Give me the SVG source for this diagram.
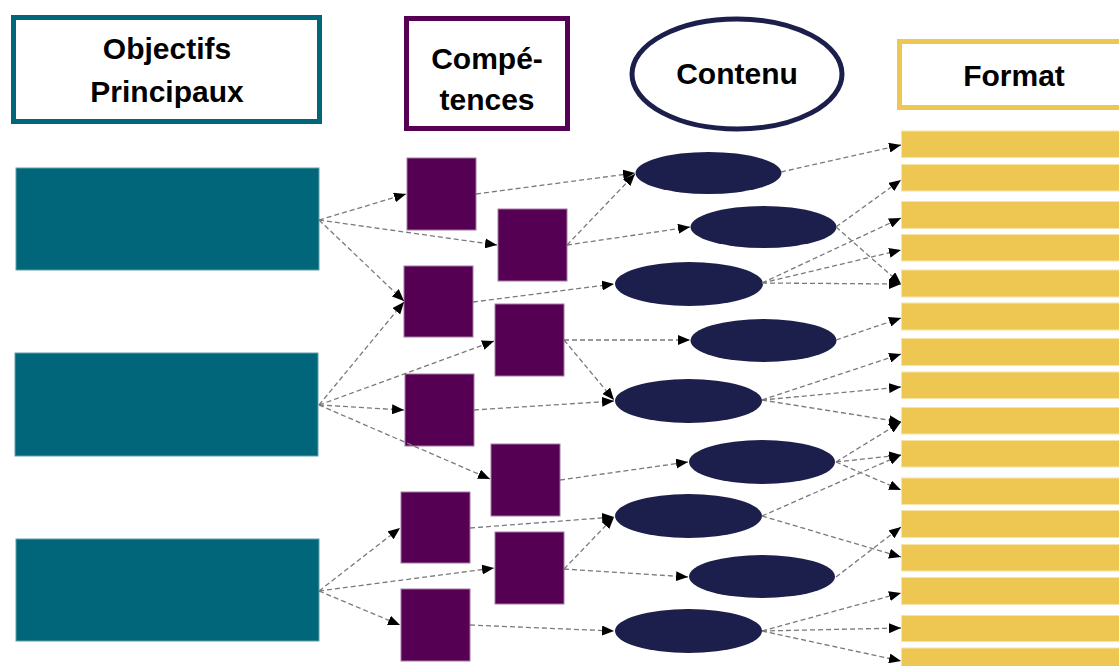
<svg xmlns="http://www.w3.org/2000/svg" width="1119" height="666" viewBox="0 0 1119 666">
<defs>
<style>
.hdr{font-family:"Liberation Sans",Arial,sans-serif;font-weight:bold;font-size:30px;fill:#000;text-anchor:middle}
.obj{fill:#02667a;stroke:#5f9fac;stroke-width:1}
.cmp{fill:#550053;stroke:#a57aa3;stroke-width:1}
.cnt{fill:#1c1f4b}
.fmt{fill:#eec752;stroke:#f6e3a8;stroke-width:1}
.cn{fill:none;stroke:#7a7a7a;stroke-width:1.3;stroke-dasharray:5 3;marker-end:url(#ah)}
</style>
<marker id="ah" markerUnits="userSpaceOnUse" markerWidth="12" markerHeight="10" viewBox="0 0 12 10" refX="12" refY="5" orient="auto">
<path d="M0,0 L12,5 L0,10 z" fill="#000"/>
</marker>
</defs>
<rect width="1119" height="666" fill="#fff"/>

<g id="hdr-objectifs">
<rect x="13.5" y="17.5" width="306" height="104" fill="#fff" stroke="#02667a" stroke-width="5"/>
<text class="hdr" x="167" y="59">Objectifs</text>
<text class="hdr" x="167" y="102">Principaux</text>
</g>
<g id="hdr-competences">
<rect x="406.5" y="18.5" width="161" height="110" fill="#fff" stroke="#550053" stroke-width="5"/>
<text class="hdr" x="487" y="69">Compé-</text>
<text class="hdr" x="487" y="110">tences</text>
</g>
<g id="hdr-contenu">
<ellipse cx="737" cy="74" rx="105" ry="55" fill="#fff" stroke="#1c1f4b" stroke-width="5"/>
<text class="hdr" x="737" y="84">Contenu</text>
</g>
<g id="hdr-format">
<rect x="899.5" y="41.5" width="240" height="66" fill="#fff" stroke="#eec752" stroke-width="5"/>
<text class="hdr" x="1014" y="86">Format</text>
</g>

<g id="objectif-1"><rect class="obj" x="16" y="168" width="303" height="102"/></g>
<g id="objectif-2"><rect class="obj" x="15" y="353" width="303" height="103"/></g>
<g id="objectif-3"><rect class="obj" x="16" y="539" width="303" height="102"/></g>

<g id="comp-a"><rect class="cmp" x="407" y="158" width="69" height="72"/></g>
<g id="comp-b"><rect class="cmp" x="498" y="209" width="69" height="72"/></g>
<g id="comp-c"><rect class="cmp" x="404" y="266" width="69" height="71"/></g>
<g id="comp-d"><rect class="cmp" x="495" y="304" width="69" height="72"/></g>
<g id="comp-e"><rect class="cmp" x="405" y="374" width="69" height="72"/></g>
<g id="comp-f"><rect class="cmp" x="491" y="444" width="69" height="72"/></g>
<g id="comp-g"><rect class="cmp" x="401" y="492" width="69" height="71"/></g>
<g id="comp-h"><rect class="cmp" x="495" y="532" width="69" height="72"/></g>
<g id="comp-i"><rect class="cmp" x="401" y="589" width="69" height="72"/></g>

<g id="contenu-1"><ellipse class="cnt" cx="708.5" cy="173" rx="73" ry="21"/></g>
<g id="contenu-2"><ellipse class="cnt" cx="763.5" cy="227" rx="73" ry="21"/></g>
<g id="contenu-3"><ellipse class="cnt" cx="689" cy="284" rx="74" ry="22"/></g>
<g id="contenu-4"><ellipse class="cnt" cx="763.5" cy="340.5" rx="73" ry="21.5"/></g>
<g id="contenu-5"><ellipse class="cnt" cx="688.5" cy="401" rx="73.5" ry="22"/></g>
<g id="contenu-6"><ellipse class="cnt" cx="762" cy="462" rx="73" ry="22"/></g>
<g id="contenu-7"><ellipse class="cnt" cx="688.5" cy="516" rx="73.5" ry="22"/></g>
<g id="contenu-8"><ellipse class="cnt" cx="762" cy="576.5" rx="73" ry="21.5"/></g>
<g id="contenu-9"><ellipse class="cnt" cx="688.5" cy="631" rx="73.5" ry="22"/></g>

<g id="format-1"><rect class="fmt" x="901.5" y="131" width="230" height="26.5"/></g>
<g id="format-2"><rect class="fmt" x="901.5" y="164.5" width="230" height="26.5"/></g>
<g id="format-3"><rect class="fmt" x="901.5" y="201.5" width="230" height="27"/></g>
<g id="format-4"><rect class="fmt" x="901.5" y="234.5" width="230" height="26.5"/></g>
<g id="format-5"><rect class="fmt" x="901.5" y="270" width="230" height="27"/></g>
<g id="format-6"><rect class="fmt" x="901.5" y="303" width="230" height="27"/></g>
<g id="format-7"><rect class="fmt" x="901.5" y="338.5" width="230" height="27"/></g>
<g id="format-8"><rect class="fmt" x="901.5" y="372" width="230" height="26.5"/></g>
<g id="format-9"><rect class="fmt" x="901.5" y="407.5" width="230" height="26.5"/></g>
<g id="format-10"><rect class="fmt" x="901.5" y="440.5" width="230" height="26.5"/></g>
<g id="format-11"><rect class="fmt" x="901.5" y="478" width="230" height="26.5"/></g>
<g id="format-12"><rect class="fmt" x="901.5" y="510.5" width="230" height="27"/></g>
<g id="format-13"><rect class="fmt" x="901.5" y="544.5" width="230" height="26.5"/></g>
<g id="format-14"><rect class="fmt" x="901.5" y="577.5" width="230" height="27"/></g>
<g id="format-15"><rect class="fmt" x="901.5" y="615.5" width="230" height="26"/></g>
<g id="format-16"><rect class="fmt" x="901.5" y="648" width="230" height="26"/></g>

<g id="connectors">
<path class="cn" d="M319,220 L406,194"/>
<path class="cn" d="M319,220 L497,245"/>
<path class="cn" d="M319,220 L404,301"/>
<path class="cn" d="M319,405 L404,302"/>
<path class="cn" d="M319,405 L494,341"/>
<path class="cn" d="M319,405 L404,410"/>
<path class="cn" d="M319,405 L490,479"/>
<path class="cn" d="M319,591 L400,528"/>
<path class="cn" d="M319,591 L494,568"/>
<path class="cn" d="M319,591 L400,625"/>

<path class="cn" d="M476,194 L635,173"/>
<path class="cn" d="M567,245 L635,174"/>
<path class="cn" d="M567,245 L690,227"/>
<path class="cn" d="M473,302 L614,284"/>
<path class="cn" d="M564,340 L690,340"/>
<path class="cn" d="M564,340 L614,400"/>
<path class="cn" d="M474,410 L614,401"/>
<path class="cn" d="M560,480 L688,462"/>
<path class="cn" d="M470,528 L614,517"/>
<path class="cn" d="M564,569 L614,517"/>
<path class="cn" d="M564,569 L688,577"/>
<path class="cn" d="M470,625 L614,631"/>

<path class="cn" d="M781,172 L901,145"/>
<path class="cn" d="M836,227 L901,180"/>
<path class="cn" d="M836,227 L901,284"/>
<path class="cn" d="M762,283 L901,218"/>
<path class="cn" d="M762,283 L901,250"/>
<path class="cn" d="M762,283 L901,284"/>
<path class="cn" d="M836,340 L901,318"/>
<path class="cn" d="M762,400 L901,354"/>
<path class="cn" d="M762,400 L901,387"/>
<path class="cn" d="M762,400 L901,422"/>
<path class="cn" d="M836,462 L901,422"/>
<path class="cn" d="M836,462 L901,455"/>
<path class="cn" d="M836,462 L901,490"/>
<path class="cn" d="M762,516 L901,455"/>
<path class="cn" d="M762,516 L901,557"/>
<path class="cn" d="M836,577 L901,527"/>
<path class="cn" d="M762,631 L901,593"/>
<path class="cn" d="M762,631 L901,628"/>
<path class="cn" d="M762,631 L901,661"/>
</g>
</svg>
